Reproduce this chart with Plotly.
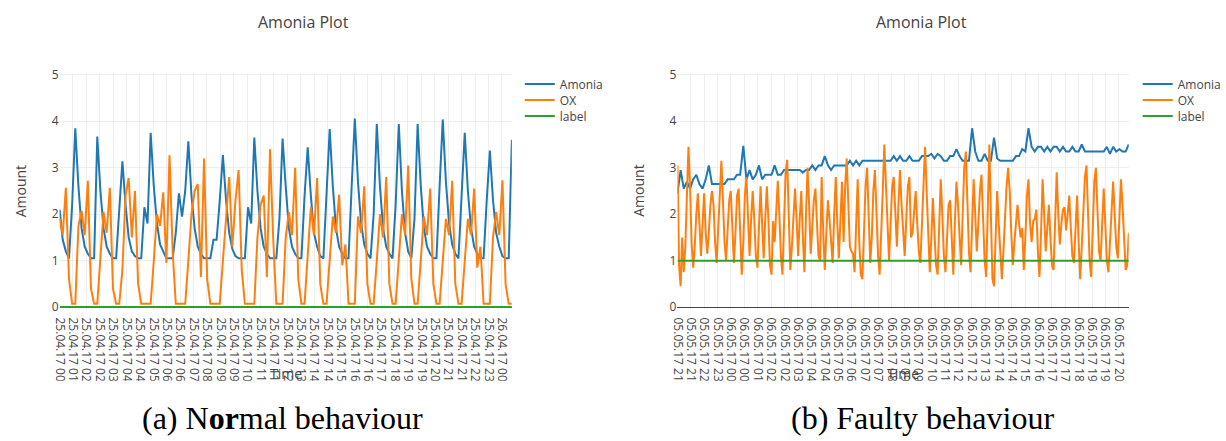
import plotly.graph_objects as go
from datetime import datetime, timedelta

# ---------------- data ----------------
# (a) normal behaviour, 10-minute samples
amonia_normal = [
    2.1, 1.45, 1.2, 1.05, 2.2, 3.85, 2.6, 1.7, 1.3, 1.15,
    1.05, 1.05, 3.67, 2.5, 1.7, 1.3, 1.15, 1.05, 1.05, 2.2,
    3.14, 2.2, 1.5, 1.2, 1.1, 1.05, 1.05, 2.15, 1.8, 3.75,
    2.6, 1.8, 1.35, 1.2, 1.05, 1.05, 1.05, 1.6, 2.45, 1.95,
    2.5, 3.57, 2.4, 1.7, 1.3, 1.15, 1.05, 1.05, 1.05, 1.45,
    1.45, 2.3, 3.27, 2.3, 1.6, 1.25, 1.1, 1.05, 1.05, 1.05,
    2.15, 1.8, 3.65, 2.5, 1.7, 1.3, 1.15, 1.05, 1.05, 1.05,
    1.9, 3.63, 2.6, 1.7, 1.3, 1.15, 1.05, 1.05, 2.4, 3.44,
    2.4, 1.6, 1.3, 1.1, 1.05, 2.5, 3.83, 2.6, 1.7, 1.3,
    1.15, 1.05, 1.05, 2.6, 4.06, 2.7, 1.8, 1.35, 1.15, 1.05,
    2.0, 3.94, 2.6, 1.7, 1.3, 1.15, 1.05, 2.2, 3.94, 2.5,
    1.6, 1.2, 1.05, 1.9, 3.94, 2.6, 1.7, 1.3, 1.15, 1.05,
    1.05, 2.6, 4.04, 2.7, 1.8, 1.35, 1.15, 1.05, 2.4, 3.75,
    2.5, 1.7, 1.3, 1.15, 1.05, 1.05, 2.3, 3.37, 2.3, 1.6,
    1.3, 1.1, 1.05, 1.05, 3.6,
]
ox_normal = [
    1.9, 1.55, 2.57, 0.6, 0.07, 0.07, 1.75, 2.07, 1.55, 2.72,
    0.4, 0.07, 0.07, 1.0, 2.05, 1.6, 2.57, 0.4, 0.07, 0.07,
    0.8, 2.4, 2.78, 1.5, 2.5, 0.5, 0.07, 0.07, 0.07, 0.07,
    1.0, 2.0, 1.75, 2.47, 0.95, 3.27, 1.2, 0.07, 0.07, 0.07,
    0.07, 1.0, 2.0, 2.5, 2.65, 0.65, 3.2, 0.6, 0.07, 0.07,
    0.07, 0.07, 1.0, 2.0, 2.8, 1.3, 2.3, 2.95, 0.8, 0.07,
    0.07, 0.07, 0.07, 1.5, 2.2, 2.4, 0.65, 3.4, 1.5, 0.07,
    0.07, 0.07, 1.5, 2.05, 1.55, 3.0, 0.6, 0.07, 0.07, 1.0,
    2.15, 1.55, 2.78, 0.5, 0.07, 0.07, 1.0, 1.95, 1.6, 2.42,
    0.9, 1.35, 0.07, 0.07, 0.07, 1.95, 1.6, 2.6, 0.5, 0.07,
    0.07, 1.0, 2.0, 1.5, 2.8, 0.5, 0.07, 0.07, 1.0, 2.0,
    1.55, 3.05, 0.6, 0.07, 0.07, 1.0, 1.95, 1.55, 2.55, 0.5,
    0.07, 0.07, 1.0, 1.9, 1.55, 2.72, 0.5, 0.07, 0.07, 1.0,
    1.9, 1.55, 2.55, 0.85, 1.3, 0.07, 0.07, 0.07, 1.5, 2.05,
    1.55, 2.73, 0.5, 0.07, 0.07,
]
label_normal = [0, 0]

# (b) faulty behaviour: Amonia at 10-minute samples, OX at 5-minute samples
amonia_faulty = [
    2.45, 2.95, 2.55, 2.7, 2.55, 2.75, 2.85, 2.65, 2.55, 2.75,
    3.05, 2.65, 2.65, 2.65, 2.65, 2.65, 2.75, 2.75, 2.75, 2.85,
    2.85, 3.47, 2.75, 2.95, 2.75, 2.85, 3.05, 2.75, 2.85, 2.85,
    2.85, 3.05, 2.85, 2.85, 2.95, 2.95, 2.95, 2.95, 2.95, 2.95,
    2.9, 2.95, 2.95, 3.05, 2.95, 3.05, 3.05, 3.25, 3.05, 2.95,
    3.05, 3.05, 3.05, 3.05, 3.05, 3.15, 3.05, 3.15, 3.05, 3.15,
    3.15, 3.15, 3.15, 3.15, 3.15, 3.15, 3.15, 3.15, 3.15, 3.25,
    3.15, 3.25, 3.15, 3.15, 3.25, 3.15, 3.15, 3.15, 3.25, 3.25,
    3.25, 3.3, 3.2, 3.3, 3.25, 3.15, 3.15, 3.25, 3.25, 3.4,
    3.25, 3.15, 3.15, 3.15, 3.85, 3.35, 3.15, 3.15, 3.3, 3.15,
    3.15, 3.65, 3.2, 3.15, 3.15, 3.15, 3.15, 3.15, 3.25, 3.25,
    3.4, 3.35, 3.85, 3.45, 3.35, 3.45, 3.45, 3.35, 3.45, 3.35,
    3.45, 3.45, 3.35, 3.45, 3.35, 3.35, 3.45, 3.35, 3.35, 3.5,
    3.35, 3.35, 3.35, 3.35, 3.35, 3.35, 3.35, 3.45, 3.3, 3.45,
    3.35, 3.4, 3.35, 3.35, 3.5,
]
ox_faulty = [
    3.05, 0.9, 0.45, 1.5, 0.75, 1.3, 2.4, 3.45, 2.6, 1.4,
    0.85, 1.3, 2.0, 2.45, 1.8, 1.1, 1.8, 2.45, 1.6, 1.15,
    1.6, 2.2, 2.5, 2.2, 1.4, 0.95, 1.7, 2.6, 3.15, 2.3,
    1.4, 1.0, 1.7, 2.3, 2.5, 1.5, 0.95, 1.6, 2.4, 2.55,
    1.6, 0.7, 1.4, 2.4, 2.8, 1.8, 1.1, 1.9, 2.5, 1.9,
    1.1, 0.85, 1.9, 2.6, 1.8, 1.05, 1.9, 2.6, 1.9, 0.9,
    0.7, 1.85, 1.4, 2.2, 2.72, 2.0, 1.1, 0.7, 1.9, 2.9,
    3.17, 2.0, 0.8, 1.3, 2.1, 2.55, 1.9, 1.1, 1.9, 2.5,
    1.5, 0.75, 2.0, 3.0, 2.2, 1.15, 1.7, 2.3, 2.55, 1.8,
    1.1, 1.0, 2.8, 1.6, 0.8, 1.6, 2.3, 1.9, 1.3, 0.95,
    2.0, 2.8, 1.8, 1.05, 1.9, 2.7, 1.4, 2.6, 3.2, 2.1,
    1.3, 1.2, 1.15, 0.75, 1.9, 2.75, 1.4, 0.7, 0.6, 1.6,
    2.6, 3.0, 2.0, 0.95, 1.5, 2.5, 2.95, 2.0, 1.1, 0.7,
    1.5, 2.5, 3.5, 2.6, 1.5, 1.0, 1.8, 2.6, 2.8, 1.9,
    1.3, 2.2, 2.95, 2.2, 1.5, 1.1, 1.9, 2.6, 2.8, 1.5,
    1.6, 2.1, 2.5, 1.8, 1.2, 0.95, 1.8, 2.8, 3.45, 2.5,
    1.5, 0.75, 1.5, 2.35, 1.6, 0.9, 0.7, 1.9, 2.75, 2.0,
    1.1, 0.75, 1.5, 2.2, 2.3, 1.5, 0.7, 1.8, 2.7, 2.2,
    1.4, 0.9, 2.0, 3.0, 3.35, 2.2, 1.2, 0.75, 1.9, 2.75,
    2.0, 1.2, 1.8, 2.5, 2.85, 1.9, 1.0, 0.65, 2.0, 3.5,
    2.0, 0.6, 0.45, 1.5, 2.5, 1.8, 1.1, 0.6, 1.2, 2.0,
    2.6, 3.0, 2.5, 1.6, 0.9, 1.4, 1.9, 2.2, 1.8, 1.5,
    1.7, 0.8, 1.5, 2.4, 2.75, 1.8, 1.4, 1.85, 1.9, 2.1,
    1.2, 0.65, 1.6, 2.75, 2.0, 1.2, 1.7, 2.2, 1.5, 0.9,
    0.8, 2.0, 2.9, 2.0, 1.35, 1.8, 2.1, 2.15, 1.65, 2.0,
    2.4, 1.7, 1.1, 0.95, 1.8, 2.4, 1.4, 0.6, 1.3, 2.2,
    2.8, 3.05, 2.0, 1.0, 0.65, 1.8, 2.7, 3.0, 2.0, 1.2,
    1.0, 1.8, 2.55, 1.8, 1.0, 0.75, 1.4, 2.2, 2.7, 2.0,
    1.3, 1.05, 2.0, 2.75, 2.2, 1.4, 0.8, 0.9, 1.6,
]
label_faulty = [1, 1]

series_names = ["Amonia", "OX", "label"]
series_colors = ["#1f77b4", "#ff7f0e", "#2ca02c"]
plot_title = "Amonia Plot"
captions = ["(a) N<b>or</b>mal behaviour", "(b) Faulty behaviour"]

# time axis: sample times and tick times
normal_start = datetime(2017, 4, 25, 0, 35)
faulty_start = datetime(2017, 5, 5, 21, 10)
span = timedelta(hours=24)
step10 = timedelta(minutes=10)
step5 = timedelta(minutes=5)
tick_step = timedelta(seconds=2560)
n_ticks = 34

x_am_normal = [normal_start + k * step10 for k in range(len(amonia_normal))]
x_ox_normal = [normal_start + k * step10 for k in range(len(ox_normal))]
x_am_faulty = [faulty_start + k * step10 for k in range(len(amonia_faulty))]
x_ox_faulty = [faulty_start + k * step5 for k in range(len(ox_faulty))]

tick_times_normal = [normal_start + k * tick_step for k in range(n_ticks)]
tick_times_faulty = [faulty_start + k * tick_step for k in range(n_ticks)]
tick_labels_normal = [t.strftime("%d.%m.%y %H:%M") for t in tick_times_normal]
tick_labels_faulty = [t.strftime("%d.%m.%y %H:%M") for t in tick_times_faulty]

# ---------------- figure ----------------
W, H = 1226, 441
FONT = "Open Sans, Verdana, Arial, sans-serif"
GREY = "#444"


def fx(p):
    return p / W


def fy(p):
    return 1 - p / H


fig = go.Figure()

panels = [
    dict(xa="x", ya="y", start=normal_start,
         xs=[x_am_normal, x_ox_normal, [normal_start, normal_start + span]],
         ys=[amonia_normal, ox_normal, label_normal],
         legends=["legend", "legend3", "legend4"], legend_x=516),
    dict(xa="x2", ya="y2", start=faulty_start,
         xs=[x_am_faulty, x_ox_faulty, [faulty_start, faulty_start + span]],
         ys=[amonia_faulty, ox_faulty, label_faulty],
         legends=["legend2", "legend5", "legend6"], legend_x=1139),
]

legend_rows = [79.5, 96, 112.5]
legend_layout = {}
for p in panels:
    for name, color, xs, ys, lg, row in zip(series_names, series_colors, p["xs"], p["ys"],
                                            p["legends"], legend_rows):
        fig.add_trace(go.Scatter(x=xs, y=ys, name=name, mode="lines",
                                 line=dict(color=color, width=2),
                                 xaxis=p["xa"], yaxis=p["ya"], legend=lg))
        legend_layout[lg] = dict(x=fx(p["legend_x"]), y=fy(row), xanchor="left", yanchor="middle",
                                 font=dict(family=FONT, size=12, color=GREY),
                                 bgcolor="rgba(0,0,0,0)", borderwidth=0)

tickfont = dict(family=FONT, size=12, color=GREY)
y_dom = [fy(311.4), fy(68.6)]


def xaxis(dom, start, ticks, labels, anchor):
    return dict(domain=dom, anchor=anchor, type="date", range=[start, start + span], tickmode="array",
                tickvals=ticks, ticktext=labels, tickangle=90, tickfont=tickfont,
                ticklabelstandoff=8,
                showgrid=True, gridcolor="#eee", gridwidth=1, zeroline=False, showline=False,
                ticks="", fixedrange=True)


def yaxis(anchor):
    return dict(domain=y_dom, anchor=anchor, range=[-0.03, 5.03], tick0=0, dtick=1, tickfont=tickfont,
                showgrid=True, gridcolor="#eee", gridwidth=1, zeroline=True, zerolinecolor=GREY,
                zerolinewidth=1, showline=False, ticks="", fixedrange=True)


ann = []
for cx in [298, 921]:
    ann.append(dict(text=plot_title, x=fx(cx), y=fy(16), xref="paper", yref="paper", showarrow=False,
                    xanchor="center", yanchor="middle", font=dict(family=FONT, size=16, color=GREY)))
for ax_x, time_x in [(13.5, 280), (636, 902.5)]:
    ann.append(dict(text="Amount", x=fx(ax_x), y=fy(190), xref="paper", yref="paper", showarrow=False,
                    textangle=-90, xanchor="center", yanchor="middle",
                    font=dict(family=FONT, size=14, color=GREY)))
    ann.append(dict(text="Time", x=fx(time_x), y=fy(378), xref="paper", yref="paper", showarrow=False,
                    xanchor="center", yanchor="middle", font=dict(family=FONT, size=14, color=GREY)))
for cx, text in [(277, captions[0]), (922, captions[1])]:
    ann.append(dict(text=text, x=fx(cx), y=fy(424), xref="paper", yref="paper", showarrow=False,
                    xanchor="center", yanchor="middle",
                    font=dict(family="Liberation Serif, Times New Roman, serif", size=32, color="black")))

fig.update_layout(
    width=W, height=H, autosize=False,
    margin=dict(l=0, r=0, t=0, b=0),
    paper_bgcolor="white", plot_bgcolor="white",
    font=dict(family=FONT, size=12, color=GREY),
    showlegend=True,
    xaxis=xaxis([fx(52), fx(508)], normal_start, tick_times_normal, tick_labels_normal, "y"),
    yaxis=yaxis("x"),
    xaxis2=xaxis([fx(675), fx(1130)], faulty_start, tick_times_faulty, tick_labels_faulty, "y2"),
    yaxis2=yaxis("x2"),
    annotations=ann,
    shapes=[dict(type="rect", xref="paper", yref="paper", x0=0, x1=1, y0=0, y1=fy(386),
                 fillcolor="white", line=dict(width=0), layer="above")],
    hovermode=False,
    **legend_layout,
)

fig.write_html("out.html", config={"displayModeBar": False, "staticPlot": True},
               post_script="document.body.style.margin='0px';document.body.style.overflow='hidden';")
